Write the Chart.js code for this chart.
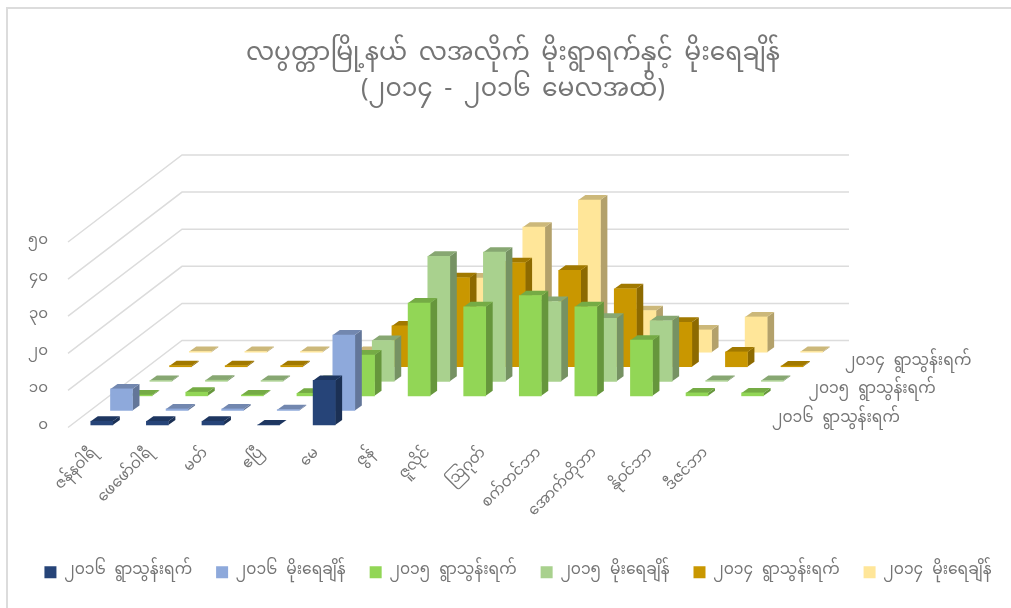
<!DOCTYPE html>
<html><head><meta charset="utf-8">
<style>
html,body{margin:0;padding:0;background:#fff;overflow:hidden;width:1011px;height:608px}
#frame{position:absolute;left:6px;top:7px;width:1100px;height:700px;border:2px solid #dcdcdc}
canvas{position:absolute;left:0;top:0;display:block}
</style>
<script src="https://cdn.jsdelivr.net/npm/chart.js@4/dist/chart.umd.min.js"></script>
</head><body><div id="frame"></div><canvas id="c" width="1026" height="608"></canvas>
<script>
const months = ["ဇန်နဝါရီ","ဖေဖော်ဝါရီ","မတ်","ဧပြီ","မေ","ဇွန်","ဇူလိုင်","ဩဂုတ်","စက်တင်ဘာ","အောက်တိုဘာ","နိုဝင်ဘာ","ဒီဇင်ဘာ"];
const yTickLabels = ["၀","၁၀","၂၀","၃၀","၄၀","၅၀"];
const titleLines = ["လပွတ္တာမြို့နယ် လအလိုက် မိုးရွာရက်နှင့် မိုးရေချိန်","(၂၀၁၄ - ၂၀၁၆ မေလအထိ)"];
const seriesNames = ["၂၀၁၆ ရွာသွန်းရက်","၂၀၁၆ မိုးရေချိန်","၂၀၁၅ ရွာသွန်းရက်","၂၀၁၅ မိုးရေချိန်","၂၀၁၄ ရွာသွန်းရက်","၂၀၁၄ မိုးရေချိန်"];
const seriesColors = ["#264478","#8EA9DB","#92D656","#A9D18E","#C99700","#FFE699"];
const rain2016Days = [1,1,1,0,12,null,null,null,null,null,null,null];
const rain2016Amount = [5.8,0.4,0.4,0.2,20.3,null,null,null,null,null,null,null];
const rain2015Days = [0.2,1,0.2,0.7,11,25,24,27,24,15,0.8,0.8];
const rain2015Amount = [0.2,0.3,0.2,0.2,11,33.7,34.8,21.5,17,16.3,0.2,0.2];
const rain2014Days = [0.3,0.3,0.3,0.3,11,24,28,26,21,12,4,0.2];
const rain2014Amount = [0.2,0.2,0.2,0.2,8,20,33.7,41,11.2,6,9.5,0.2];
const seriesData = [rain2016Days,rain2016Amount,rain2015Days,rain2015Amount,rain2014Days,rain2014Amount];
const depthLabels = ["၂၀၁၆ ရွာသွန်းရက်","၂၀၁၅ ရွာသွန်းရက်","၂၀၁၄ ရွာသွန်းရက်"];

const FONT = '"Noto Sans Myanmar","Padauk","Myanmar Text","Noto Sans","DejaVu Sans",sans-serif';
const GRAY = "#757575";
const WALL = {dx:114, dy:87};
const ROW = {dx:19.7, dy:14.55, x0:6, y0:4.75};
const BAR = {dx:7, dy:5};

function shade(hex,f){
  const n=parseInt(hex.slice(1),16);
  return `rgb(${Math.round((n>>16&255)*f)},${Math.round((n>>8&255)*f)},${Math.round((n&255)*f)})`;
}

const threeD = {
  id:"threeD",
  beforeLayout(chart){chart.ctx.wordSpacing="5px";},
  afterLayout(chart){chart.legend.left+=5;chart.legend.right+=5;},
  beforeDraw(chart){chart.ctx.wordSpacing="5px";},
  beforeDatasetsDraw(chart){
    const {ctx,chartArea:a,scales:{y}}=chart;
    ctx.save();
    ctx.strokeStyle="#dcdcdc";ctx.lineWidth=1.5;
    y.ticks.forEach((t,i)=>{
      const py=y.getPixelForTick(i);
      ctx.beginPath();
      ctx.moveTo(a.left,py);
      ctx.lineTo(a.left+WALL.dx,py-WALL.dy);
      ctx.lineTo(a.right+WALL.dx,py-WALL.dy);
      ctx.stroke();
    });
    ctx.restore();
  },
  beforeDatasetDraw(chart,args){
    const {ctx}=chart,i=args.index,col=seriesColors[i];
    ctx.save();
    ctx.translate(ROW.x0+ROW.dx*i,-(ROW.y0+ROW.dy*i)+2.2);
    args.meta.data.forEach((el,k)=>{
      if(seriesData[i][k]===null) return;
      const {x,y,base,width}=el.getProps(["x","y","base","width"],true);
      const l=x-width/2,r=x+width/2;
      ctx.fillStyle=shade(col,0.7);
      ctx.beginPath();ctx.moveTo(r,y);ctx.lineTo(r+BAR.dx,y-BAR.dy);ctx.lineTo(r+BAR.dx,base-BAR.dy);ctx.lineTo(r,base);ctx.closePath();ctx.fill();
      ctx.fillStyle=shade(col,0.8);
      ctx.beginPath();ctx.moveTo(l,y);ctx.lineTo(l+BAR.dx,y-BAR.dy);ctx.lineTo(r+BAR.dx,y-BAR.dy);ctx.lineTo(r,y);ctx.closePath();ctx.fill();
    });
  },
  afterDatasetDraw(chart){chart.ctx.restore();},
  afterDraw(chart){
    const {ctx,chartArea:a}=chart;
    ctx.save();
    ctx.fillStyle=GRAY;ctx.font=`15.5px ${FONT}`;ctx.textBaseline="middle";ctx.textAlign="left";
    depthLabels.forEach((s,i)=>ctx.fillText(s,a.right+37+36.5*i,420-28.5*i));
    ctx.restore();
  }
};

new Chart(document.getElementById("c"),{
  type:"bar",
  data:{labels:months,datasets:seriesNames.map((n,i)=>({
    label:n,data:seriesData[i],backgroundColor:seriesColors[i],borderWidth:0,barThickness:22,grouped:false,clip:false
  }))},
  options:{
    responsive:false,animation:false,devicePixelRatio:1,
    layout:{padding:{left:0,right:0,top:34,bottom:18}},
    plugins:{
      tooltip:{enabled:false},
      title:{display:true,text:titleLines,color:GRAY,font:{family:FONT,size:25,weight:"normal",lineHeight:1.42},padding:{top:6,bottom:131}},
      legend:{position:"bottom",labels:{color:GRAY,font:{family:FONT,size:15.5},boxWidth:12,boxHeight:12,padding:24}}
    },
    scales:{
      x:{grid:{display:false},border:{display:false},
        ticks:{minRotation:45,maxRotation:45,autoSkip:false,color:GRAY,font:{family:FONT,size:15},padding:10},
        afterFit(s){s.height=113;}},
      y:{min:0,max:50,grid:{display:false},border:{display:false},
        ticks:{stepSize:10,color:GRAY,font:{family:FONT,size:15},padding:12,callback:(v)=>yTickLabels[v/10]},
        afterFit(s){s.width=68;}},
      pad:{position:"right",display:true,min:0,max:1,grid:{display:false},border:{display:false},
        ticks:{display:false},afterFit(s){s.width=291;}}
    }
  },
  plugins:[threeD]
});
</script></body></html>
